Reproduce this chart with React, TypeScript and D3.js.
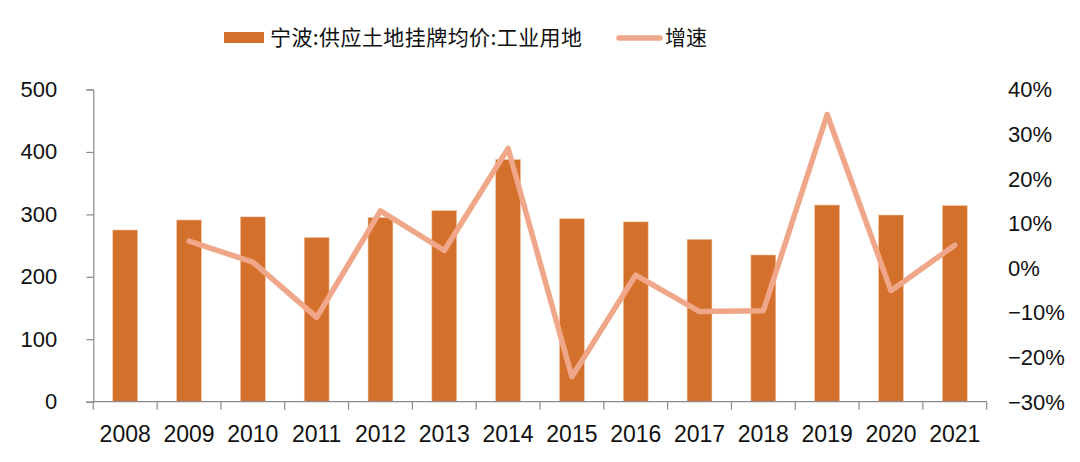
import React, { useEffect, useRef } from "react";
import * as d3 from "d3";

const years = ["2008","2009","2010","2011","2012","2013","2014","2015","2016","2017","2018","2019","2020","2021"];
const priceValues = [275, 291, 296, 263, 295, 306, 388, 293, 288, 260, 235, 315, 299, 314];
const growthValues: (number | null)[] = [null, 6.0, 1.3, -11.1, 12.8, 3.9, 26.8, -24.4, -1.6, -9.8, -9.6, 34.4, -5.1, 5.1];
const leftTicks = [0, 100, 200, 300, 400, 500];
const rightTicks = [-30, -20, -10, 0, 10, 20, 30, 40];
const barLabel = "宁波:供应土地挂牌均价:工业用地";
const lineLabel = "增速";

const W = 1080, H = 462;
const BAR_COLOR = "#D3702B";
const LINE_COLOR = "#F0A688";
const NUM_FONT = "'Liberation Sans', Arial, sans-serif";
const CJK_FONT = "'Noto Sans CJK SC', sans-serif";

export default function App() {
  const ref = useRef<SVGSVGElement | null>(null);
  useEffect(() => {
    document.body.style.margin = "0";
    const svg = d3.select(ref.current);
    svg.selectAll("*").remove();
    const x0 = 93.3, x1 = 986.7, yTop = 89.5, yBot = 401.7;
    const x = d3.scaleBand<string>().domain(years).range([x0, x1]).paddingInner(0.61).paddingOuter(0.305);
    const xb = d3.scaleBand<string>().domain(years).range([x0, x1]);
    const yL = d3.scaleLinear().domain([0, 500]).range([yBot, yTop]);
    const yR = d3.scaleLinear().domain([-30, 40]).range([yBot, yTop]);

    // bars
    svg.append("g").selectAll("rect").data(years).join("rect")
      .attr("x", d => x(d)!)
      .attr("width", x.bandwidth())
      .attr("y", (d, i) => yL(priceValues[i]))
      .attr("height", (d, i) => yBot - yL(priceValues[i]))
      .attr("fill", BAR_COLOR)
      .attr("stroke", "#F2C9A8").attr("stroke-width", 0.6);

    // left axis
    const gl = svg.append("g").attr("transform", `translate(${x0},0)`)
      .call(d3.axisLeft(yL).tickValues(leftTicks).tickSize(7).tickPadding(29).tickFormat(d3.format("d")));
    gl.select(".domain").attr("stroke", "#8a8a8a").attr("stroke-width", 1.2);
    gl.selectAll(".tick line").attr("stroke", "#8a8a8a").attr("stroke-width", 1.2);
    gl.selectAll("text").attr("font-family", NUM_FONT).attr("font-size", 22).attr("fill", "#111");

    // bottom axis
    const gb = svg.append("g").attr("transform", `translate(0,${yBot})`);
    gb.append("line").attr("x1", x0).attr("x2", x1).attr("y1", 0).attr("y2", 0)
      .attr("stroke", "#8a8a8a").attr("stroke-width", 1.2);
    const bounds = [...years.map(d => xb(d)!), x1];
    gb.selectAll("line.t").data(bounds).join("line").attr("class", "t")
      .attr("x1", d => d).attr("x2", d => d).attr("y1", 0).attr("y2", 8)
      .attr("stroke", "#8a8a8a").attr("stroke-width", 1.2);
    gb.selectAll("text").data(years).join("text")
      .attr("x", d => xb(d)! + xb.bandwidth() / 2).attr("y", 40)
      .attr("text-anchor", "middle").attr("font-family", NUM_FONT).attr("font-size", 23).attr("fill", "#111")
      .text(d => d);

    // right axis labels
    svg.append("g").selectAll("text").data(rightTicks).join("text")
      .attr("x", 1008).attr("y", d => yR(d)).attr("dy", "0.36em")
      .attr("font-family", NUM_FONT).attr("font-size", 22).attr("fill", "#111")
      .text(d => (d < 0 ? "\u2212" + Math.abs(d) : d) + "%");

    // line
    const line = d3.line<number | null>()
      .defined(d => d !== null)
      .x((d, i) => xb(years[i])! + xb.bandwidth() / 2)
      .y(d => yR(d as number));
    svg.append("path").datum(growthValues).attr("d", line)
      .attr("fill", "none").attr("stroke", LINE_COLOR).attr("stroke-width", 5.5)
      .attr("stroke-linejoin", "round").attr("stroke-linecap", "round");

    // legend
    const lg = svg.append("g");
    lg.append("rect").attr("x", 224).attr("y", 32).attr("width", 40).attr("height", 11).attr("fill", BAR_COLOR);
    lg.append("text").attr("x", 270).attr("y", 38).attr("dy", "0.35em")
      .attr("font-family", CJK_FONT).attr("font-size", 21).attr("fill", "#111")
      .attr("textLength", 312).attr("lengthAdjust", "spacing").text(barLabel);
    lg.append("line").attr("x1", 619).attr("x2", 660).attr("y1", 38).attr("y2", 38)
      .attr("stroke", LINE_COLOR).attr("stroke-width", 5.5).attr("stroke-linecap", "round");
    lg.append("text").attr("x", 665).attr("y", 38).attr("dy", "0.35em")
      .attr("font-family", CJK_FONT).attr("font-size", 21).attr("fill", "#111").text(lineLabel);
  }, []);
  return <svg ref={ref} width={W} height={H} style={{ display: "block", background: "#fff" }} />;
}
